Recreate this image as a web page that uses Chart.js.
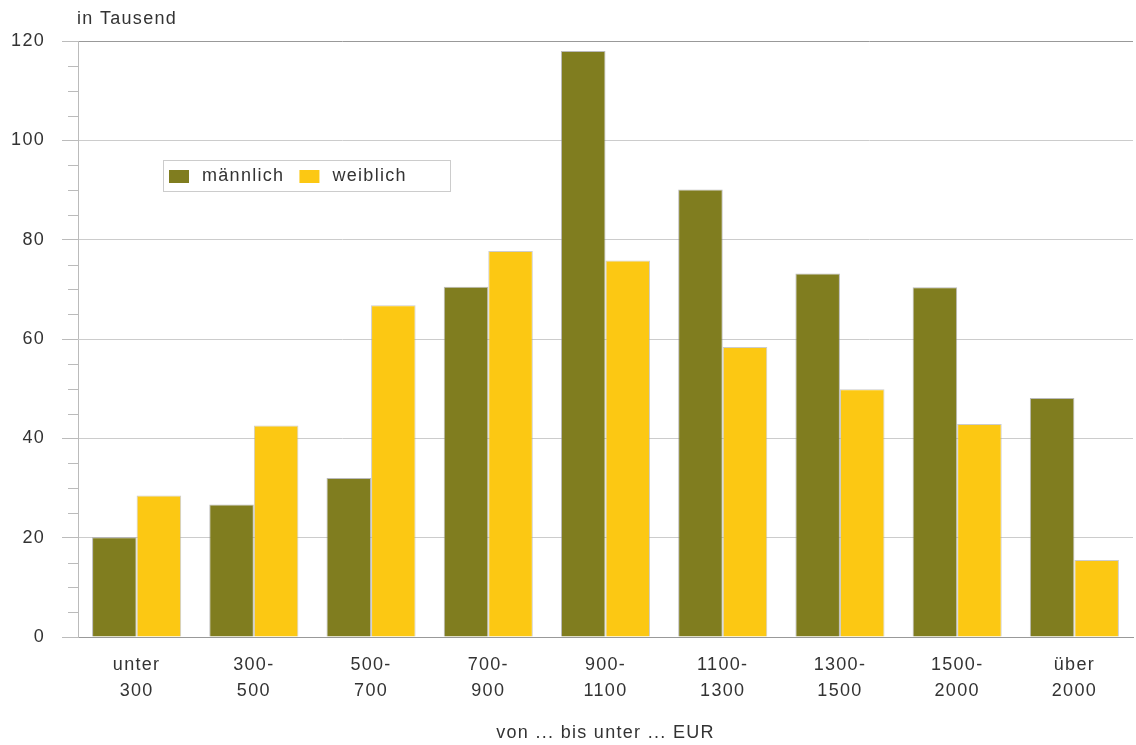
<!DOCTYPE html>
<html>
<head>
<meta charset="utf-8">
<script src="https://cdn.jsdelivr.net/npm/chart.js@4/dist/chart.umd.min.js"></script>
<style>
  html, body { margin: 0; padding: 0; background: #fff; }
  #wrap { width: 1136px; height: 745px; }
</style>
</head>
<body>
<div id="wrap"><canvas id="c"></canvas></div>
<script>
const categories = [
  ['unter', '300'], ['300-', '500'], ['500-', '700'], ['700-', '900'],
  ['900-', '1100'], ['1100-', '1300'], ['1300-', '1500'], ['1500-', '2000'], ['über', '2000']
];
const maennlich = [20.1, 26.7, 32.0, 70.5, 118.0, 90.1, 73.2, 70.4, 48.1];
const weiblich = [28.5, 42.6, 66.8, 77.7, 75.8, 58.4, 49.9, 42.9, 15.5];
const yTicks = [0, 20, 40, 60, 80, 100, 120];

const FONT = 'Liberation Sans, Arial, sans-serif';
const TEXT = '#333';
const SPACING = '1.3px';

// the reference text is set with some tracking
const tracking = {
  id: 'tracking',
  beforeDraw(chart) { chart.ctx.letterSpacing = SPACING; }
};

// minor ticks, unit label and legend box
const extras = {
  id: 'extras',
  afterDraw(chart) {
    const ctx = chart.ctx;
    const y = chart.scales.y;
    const area = chart.chartArea;
    ctx.save();
    ctx.letterSpacing = SPACING;
    ctx.strokeStyle = '#bbb';
    ctx.lineWidth = 1;
    for (let v = 5; v < 120; v += 5) {
      if (v % 20 === 0) continue;
      const py = Math.round(y.getPixelForValue(v)) + 0.5;
      ctx.beginPath();
      ctx.moveTo(area.left - 10, py);
      ctx.lineTo(area.left, py);
      ctx.stroke();
    }

    ctx.fillStyle = TEXT;
    ctx.font = '18px ' + FONT;
    ctx.textBaseline = 'middle';
    ctx.textAlign = 'left';
    ctx.fillText('in Tausend', area.left - 1, 19);

    // legend
    const bx = 163.5, by = 160.5, bw = 287, bh = 31;
    ctx.fillStyle = '#fff';
    ctx.fillRect(bx, by, bw, bh);
    ctx.strokeStyle = '#ccc';
    ctx.strokeRect(bx, by, bw, bh);
    let x = 169;
    chart.data.datasets.forEach(ds => {
      ctx.fillStyle = ds.backgroundColor;
      ctx.fillRect(x, 170, 20, 13);
      ctx.fillStyle = TEXT;
      ctx.fillText(ds.label, x + 33, 176);
      x += 33 + ctx.measureText(ds.label).width + 15;
    });
    ctx.restore();
  }
};

new Chart(document.getElementById('c'), {
  type: 'bar',
  data: {
    labels: categories,
    datasets: [
      { label: 'männlich', data: maennlich, backgroundColor: '#807D1F',
        borderColor: 'rgba(140,140,140,0.6)', borderWidth: 1 },
      { label: 'weiblich', data: weiblich, backgroundColor: '#FCC813',
        borderColor: 'rgba(170,170,170,0.6)', borderWidth: 1 }
    ]
  },
  options: {
    responsive: true,
    maintainAspectRatio: false,
    animation: false,
    layout: { padding: { left: 0, right: 3, top: 41, bottom: 0 } },
    datasets: { bar: { categoryPercentage: 0.76, barPercentage: 1.0 } },
    plugins: {
      legend: { display: false },
      tooltip: { enabled: false }
    },
    scales: {
      x: {
        grid: { display: false, drawTicks: false },
        border: { color: '#999' },
        ticks: { color: TEXT, font: { family: FONT, size: 18, lineHeight: 1.45 }, padding: 15, maxRotation: 0 },
        title: { display: true, text: 'von ... bis unter ... EUR', color: TEXT,
                 font: { family: FONT, size: 18 }, padding: { top: 0, bottom: 1 } },
        afterFit(s) { s.height = 108; }
      },
      y: {
        min: 0, max: 120,
        afterBuildTicks(s) { s.ticks = yTicks.map(v => ({ value: v })); },
        grid: {
          color: c => (c.tick && (c.tick.value === 120) ? '#999' : '#ccc'),
          tickLength: 16,
          tickColor: '#bbb'
        },
        border: { color: '#bbb' },
        ticks: { color: TEXT, font: { family: FONT, size: 18 }, padding: 17 },
        afterFit(s) { s.width = 78; }
      }
    }
  },
  plugins: [tracking, extras]
});
</script>
</body>
</html>
